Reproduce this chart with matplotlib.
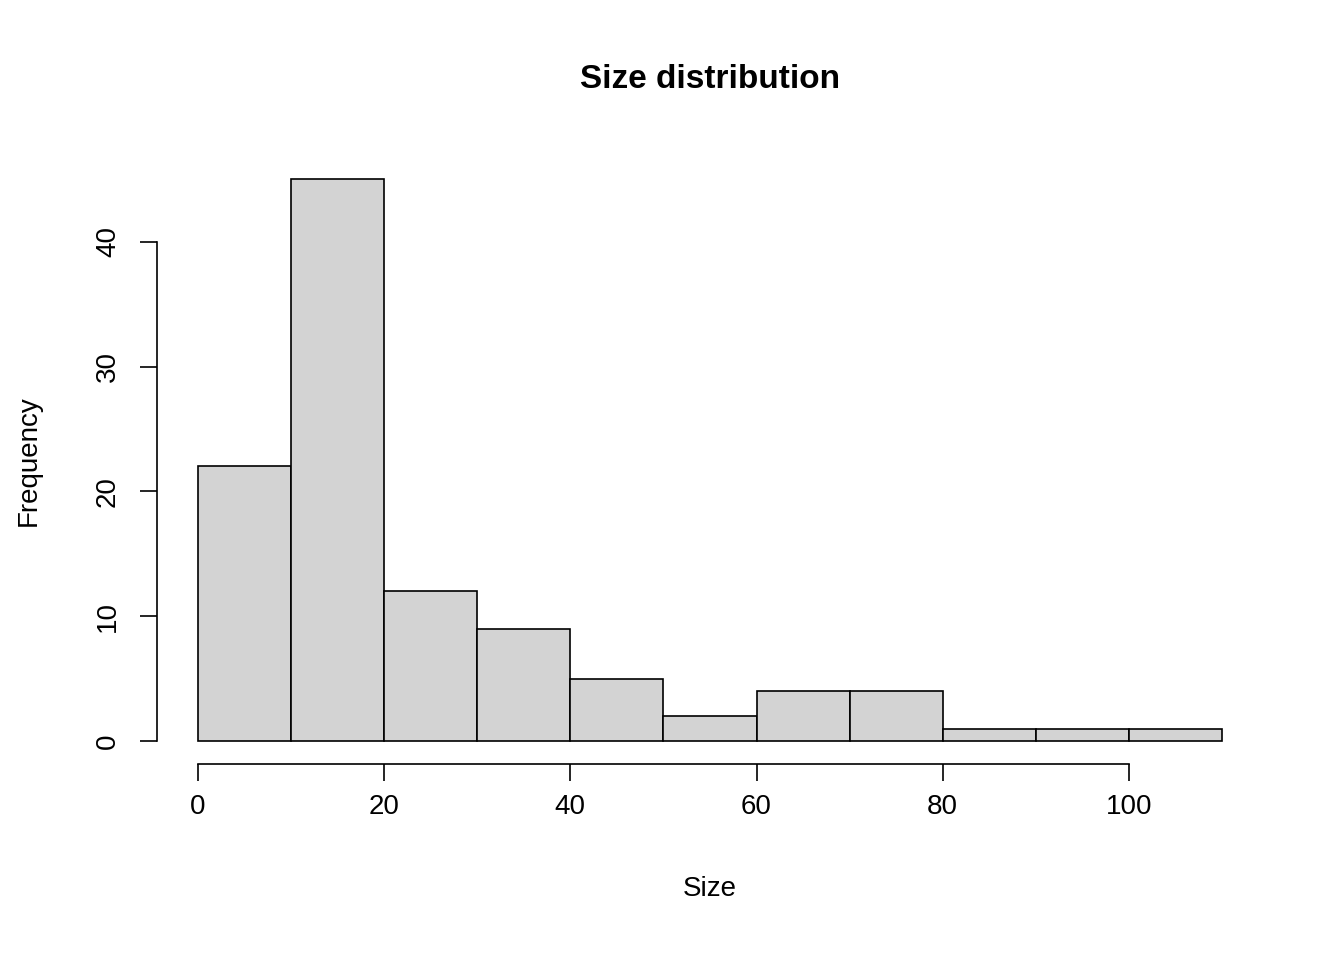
import matplotlib.pyplot as plt
import numpy as np

bin_edges = [0, 10, 20, 30, 40, 50, 60, 70, 80, 90, 100, 110]
counts = [22, 45, 12, 9, 5, 2, 4, 4, 1, 1, 1]
x_ticks = [0, 20, 40, 60, 80, 100]
y_ticks = [0, 10, 20, 30, 40]

plt.rcParams["font.family"] = ["Liberation Sans", "DejaVu Sans"]

fig = plt.figure(figsize=(13.44, 9.6), dpi=100)
W, H = 1344, 960
left, right, top, bottom = 157, 1263, 157, 763.5
ax = fig.add_axes([left / W, 1 - bottom / H, (right - left) / W, (bottom - top) / H])

edges = np.array(bin_edges)
ax.bar(edges[:-1], counts, width=np.diff(edges), align="edge",
       color="#d3d3d3", edgecolor="black", linewidth=1.2)

ax.set_xlim(-4.4, 114.4)
ax.set_ylim(-1.8, 46.8)
for s in ["top", "right"]:
    ax.spines[s].set_visible(False)
ax.spines["left"].set_bounds(0, 40)
ax.spines["bottom"].set_bounds(0, 100)
for s in ["left", "bottom"]:
    ax.spines[s].set_linewidth(1.2)

ax.set_xticks(x_ticks)
ax.set_yticks(y_ticks)
ax.tick_params(axis="both", length=12, width=1.2, labelsize=20, pad=14)
ax.tick_params(axis="x", pad=10)
for lbl in ax.get_yticklabels():
    lbl.set_rotation(90)
    lbl.set_va("center")

ax.set_xlabel("Size", fontsize=20, labelpad=40)
ax.set_ylabel("Frequency", fontsize=20, labelpad=38)
fig.text((left + right) / 2 / W, 1 - 80 / H, "Size distribution",
         ha="center", va="center", fontsize=24, fontweight="bold")

fig.savefig("out.png", dpi=100)
